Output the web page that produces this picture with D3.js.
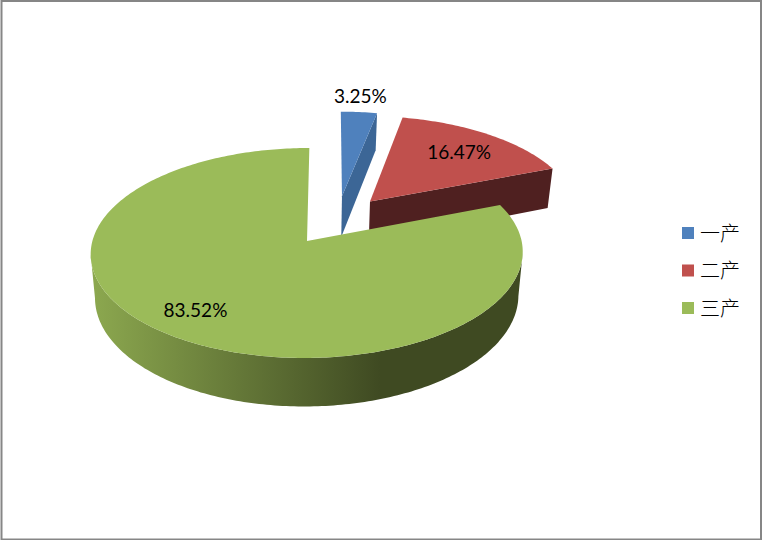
<!DOCTYPE html>
<html>
<head>
<meta charset="utf-8">
<script src="https://cdn.jsdelivr.net/npm/d3@7/dist/d3.min.js"></script>
<style>
html,body{margin:0;padding:0;background:#fff;}
svg{display:block;}
</style>
</head>
<body>
<svg id="chart" width="762" height="540"></svg>
<script>
const categories = ["一产", "二产", "三产"];
const seriesValues = [3.25, 16.47, 83.52];
const valueLabels = ["3.25%", "16.47%", "83.52%"];
const topColors = ["#4f81bd", "#c0504d", "#9bbb59"];
const wallColors = ["#3c6696", "#4f2020", "#3f4a22"];

const W = 762, H = 540;
const svg = d3.select("#chart");
const defs = svg.append("defs");

// perspective floor plane of the pie (unit radius, y pointing to the viewer)
const apexX = 307, apexY = 241, vanishX = 330;
const rx = 214.6, ry = 103.6, persp = 0.114, depth = 43, explode = 0.25, taper = 0.02;

function project(px, py, h) {
  const w = 1 - persp * py;
  const X = apexX + rx * px / w + (vanishX - apexX) * (1 - 1 / w);
  const Y = apexY + ry * py / w;
  return h ? [X + (apexX - X) * taper, Y + depth / w] : [X, Y];
}

const pie = d3.pie().sort(null).startAngle(0).endAngle(2 * Math.PI);
const arcs = pie(seriesValues);
const greenMid = (arcs[2].startAngle + arcs[2].endAngle) / 2;
const dir = a => [Math.sin(a), -Math.cos(a)];
const gd = dir(greenMid);

// plane offset of every slice, measured from the exploded green slice's tip
function origin(arc) {
  const d = dir((arc.startAngle + arc.endAngle) / 2);
  return [explode * (d[0] - gd[0]), explode * (d[1] - gd[1])];
}
function edge(arc, a, r, h) {
  const o = origin(arc), d = dir(a);
  return project(o[0] + r * d[0], o[1] + r * d[1], h);
}
const line = d3.line();
function samples(a0, a1) {
  const n = Math.max(2, Math.ceil(Math.abs(a1 - a0) * 60));
  return d3.range(n + 1).map(i => a0 + (a1 - a0) * i / n);
}
function topFace(arc) {
  const pts = [edge(arc, 0, 0, false)].concat(
    samples(arc.startAngle, arc.endAngle).map(a => edge(arc, a, 1, false)));
  return line(pts) + "Z";
}
function cutWall(arc, a) {
  return line([edge(arc, a, 0, false), edge(arc, a, 1, false), edge(arc, a, 1, true), edge(arc, a, 0, true)]) + "Z";
}
// only the part of the rim that faces the viewer (between the two side extremes)
function rimWall(arc) {
  const s = samples(arc.startAngle, arc.endAngle)
    .filter(a => edge(arc, a + 0.005, 1, false)[0] < edge(arc, a, 1, false)[0]);
  const upper = s.map(a => edge(arc, a, 1, false));
  const lower = s.map(a => edge(arc, a, 1, true)).reverse();
  return line(upper.concat(lower)) + "Z";
}

// shaded rim of the big slice
const grad = defs.append("linearGradient").attr("id", "rimGrad")
  .attr("gradientUnits", "userSpaceOnUse")
  .attr("x1", 92).attr("x2", 380).attr("y1", 0).attr("y2", 0);
grad.append("stop").attr("offset", 0).attr("stop-color", "#8ca84f");
grad.append("stop").attr("offset", 1).attr("stop-color", wallColors[2]);

const layer = svg.append("g");
// blue slice
layer.append("path").attr("d", cutWall(arcs[0], arcs[0].endAngle)).attr("fill", wallColors[0]);
layer.append("path").attr("d", topFace(arcs[0])).attr("fill", topColors[0]);
// red slice
layer.append("path").attr("d", cutWall(arcs[1], arcs[1].endAngle)).attr("fill", wallColors[1]);
layer.append("path").attr("d", topFace(arcs[1])).attr("fill", topColors[1]);
// green slice
layer.append("path").attr("d", rimWall(arcs[2])).attr("fill", "url(#rimGrad)");
layer.append("path").attr("d", topFace(arcs[2])).attr("fill", topColors[2]);

// value labels, placed along each slice's middle direction
const labelRadius = [1.22, 0.735, 0.75];
const labelNudge = [-2, 0, -12];
const labelFont = "Lato, Carlito, 'Open Sans', sans-serif";
svg.append("g").selectAll("text").data(arcs).join("text")
  .attr("x", (d, i) => edge(d, (d.startAngle + d.endAngle) / 2, labelRadius[i], false)[0] + labelNudge[i])
  .attr("y", (d, i) => edge(d, (d.startAngle + d.endAngle) / 2, labelRadius[i], false)[1])
  .attr("text-anchor", "middle").attr("dominant-baseline", "central")
  .attr("font-family", labelFont).attr("font-size", 19).attr("fill", "#000")
  .text((d, i) => valueLabels[i]);

// legend
const legendY = d3.scalePoint().domain(categories).range([233, 308]);
const legend = svg.append("g").selectAll("g").data(categories).join("g")
  .attr("transform", d => `translate(682,${legendY(d)})`);
legend.append("rect").attr("x", 0).attr("y", -6).attr("width", 12).attr("height", 12)
  .attr("fill", (d, i) => topColors[i]);
legend.append("text").attr("x", 18).attr("y", -1)
  .attr("dominant-baseline", "central")
  .attr("font-family", "'Noto Sans CJK SC'").attr("font-weight", 300).attr("font-size", 20).attr("fill", "#000")
  .text(d => d);

// outer frame
svg.append("rect").attr("x", 1.5).attr("y", 1).attr("width", W - 2.5).attr("height", H - 1.5)
  .attr("fill", "none").attr("stroke", "#868686").attr("stroke-width", 2);
</script>
</body>
</html>
